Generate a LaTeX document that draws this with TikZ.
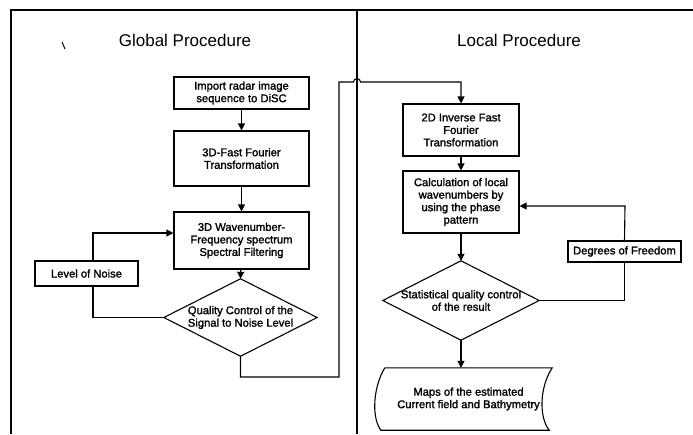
\documentclass[tikz,border=0pt]{standalone}
\usepackage{fontspec}
\setmainfont{Liberation Sans}
\newfontfamily\heavysans{Liberation Sans}[FakeBold=1.6]
\usetikzlibrary{arrows.meta,calc}

\begin{document}
\begin{tikzpicture}[x=1pt,y=-1pt,
  frame/.style={line width=1.8pt},
  boxfont/.style={font=\fontsize{11.2}{12.5}\selectfont\heavysans},
  procbox/.style={draw,line width=1.1pt,align=center,inner sep=1pt,boxfont},
  decision/.style={align=center,inner sep=0pt,boxfont},
  flow/.style={line width=1.1pt},
  arr/.style={flow,-{Triangle[length=7pt,width=7pt]}},
  heading/.style={font=\fontsize{17}{20}\selectfont}
]
\useasboundingbox (0,0) rectangle (693,434);

% outer frame and column divider
\draw[frame] (11,434) -- (11,10) -- (693,10);
\draw[frame] (357,10) -- (357,434);
\draw[line width=1pt] (62,42) -- (65,49);

% headings
\node[heading] (gtitle) at (185,40) {Global Procedure};
\node[heading] (ltitle) at (519,40) {Local Procedure};

% global procedure
\node[procbox,minimum width=135,minimum height=32] (b1) at (241.5,93)
  {Import radar image\\sequence to DiSC};
\node[procbox,minimum width=135,minimum height=55] (b2) at (241.5,158.5)
  {3D-Fast Fourier\\Transformation};
\node[procbox,minimum width=135,minimum height=57] (b3) at (241.5,240.5)
  {3D Wavenumber-\\Frequency spectrum\\Spectral Filtering};
\node[procbox,minimum width=103,minimum height=25] (noise) at (86.5,273.5)
  {Level of Noise};
\node[decision,minimum width=153,minimum height=77] (d1) at (240.5,317.5)
  {Quality Control of the\\Signal to Noise Level};
\draw[flow] (d1.north) -- (d1.east) -- (d1.south) -- (d1.west) -- cycle;

% local procedure
\node[procbox,minimum width=116,minimum height=52] (b4) at (461,130)
  {2D Inverse Fast\\Fourier\\Transformation};
\node[procbox,minimum width=116,minimum height=62] (b5) at (461,202)
  {Calculation of local\\wavenumbers by\\using the phase\\pattern};
\node[decision,minimum width=156,minimum height=79] (d2) at (461,300.5)
  {Statistical quality control\\of the result};
\draw[flow] (d2.north) -- (d2.east) -- (d2.south) -- (d2.west) -- cycle;
\node[procbox,minimum width=113,minimum height=21] (dof) at (624.5,251.5)
  {Degrees of Freedom};
\node[boxfont,align=center,minimum width=167,minimum height=62,inner sep=0pt] (maps) at (468.5,399)
  {Maps of the estimated\\Current field and Bathymetry};
\draw[flow] (maps.north west) -- (maps.north east)
  .. controls ($(maps.north east)+(-12,18)$) and ($(maps.south east)+(-14,-14)$) .. ($(maps.south east)+(-3,0)$)
  -- ($(maps.south west)+(-4,0)$)
  .. controls ($(maps.south west)+(-14,-14)$) and ($(maps.north west)+(-11,18)$) .. (maps.north west);

% connector corners
\coordinate (nz) at (93,233);
\coordinate (c1) at (339,377);
\coordinate (c2) at (339,82);
\coordinate (hop) at (353.5,82);
\coordinate (fb) at (625,206);

% global flow
\draw[arr] (b1) -- (b2);
\draw[arr] (b2) -- (b3);
\draw[arr] (b3) -- (d1.north);
\draw[arr] (noise.north -| nz) -- (nz) -- (nz -| b3.west);
\draw[flow] (d1.west) -| (noise.south -| nz);

% link from the global to the local procedure, hopping over the divider
\draw[arr] (d1.south) |- (c1) -- (c2) -- (hop)
  arc[start angle=180,end angle=0,radius=3.5pt] -- (c2 -| b4.north) -- (b4.north);

% local flow
\draw[arr] (b4) -- (b5);
\draw[arr] (b5) -- (d2.north);
\draw[flow] (d2.east) -| (dof.south);
\draw[arr] (dof.north) -- (fb) -- (fb -| b5.east);
\draw[arr] (d2.south) -- (d2.south |- maps.north);
\end{tikzpicture}
\end{document}
